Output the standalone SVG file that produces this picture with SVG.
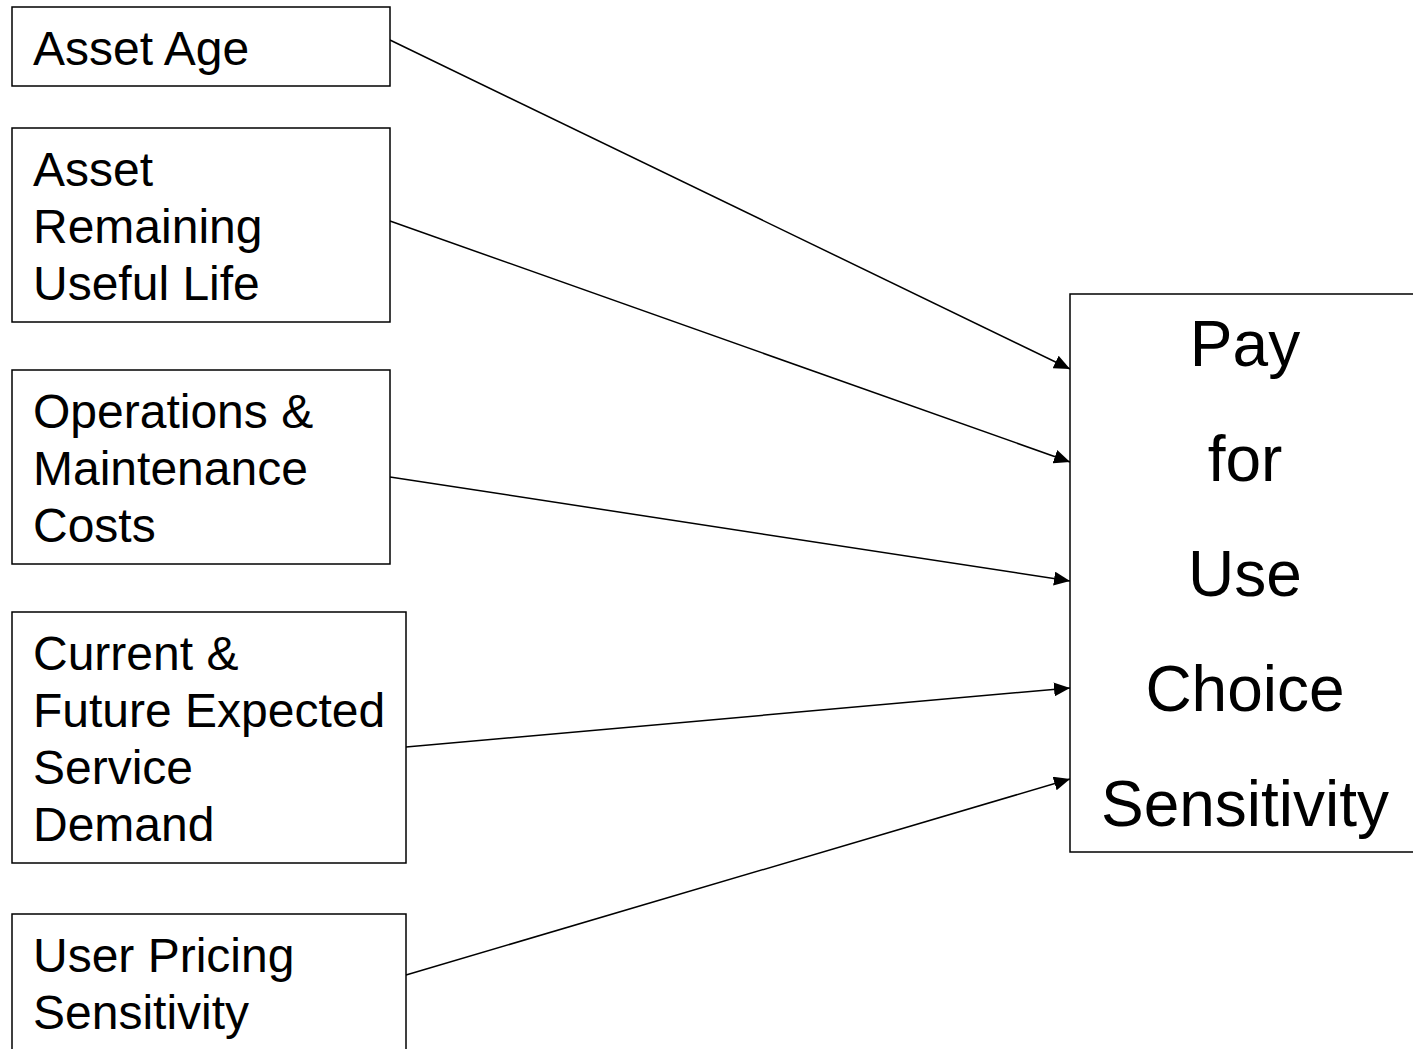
<svg xmlns="http://www.w3.org/2000/svg" width="1413" height="1049" viewBox="0 0 1413 1049">
<style>
.box{fill:#fff;stroke:#000;stroke-width:1.5}
.t{font-family:"Liberation Sans",Arial,sans-serif;font-size:48px;fill:#000}
.tr{font-family:"Liberation Sans",Arial,sans-serif;font-size:64px;fill:#000;text-anchor:middle}
.c{stroke:#000;stroke-width:1.5;fill:none;marker-end:url(#ah)}
</style>
<defs>
<marker id="ah" markerUnits="userSpaceOnUse" markerWidth="16" markerHeight="14" refX="16" refY="7" orient="auto">
<path d="M0,0 L16,7 L0,14 Z" fill="#000"/>
</marker>
</defs>
<rect width="1413" height="1049" fill="#fff"/>
<g id="connectors">
<line class="c" x1="390" y1="40" x2="1070" y2="369"/>
<line class="c" x1="390" y1="221" x2="1070" y2="462"/>
<line class="c" x1="390" y1="477" x2="1070" y2="581"/>
<line class="c" x1="406" y1="747" x2="1070" y2="688"/>
<line class="c" x1="406" y1="975" x2="1070" y2="779"/>
</g>
<g id="n1"><rect class="box" x="12" y="7" width="378" height="79"/><text class="t" x="33" y="65">Asset Age</text></g>
<g id="n2"><rect class="box" x="12" y="128" width="378" height="194"/><text class="t" x="33" y="186">Asset</text><text class="t" x="33" y="243">Remaining</text><text class="t" x="33" y="300">Useful Life</text></g>
<g id="n3"><rect class="box" x="12" y="370" width="378" height="194"/><text class="t" x="33" y="428">Operations &amp;</text><text class="t" x="33" y="485">Maintenance</text><text class="t" x="33" y="542">Costs</text></g>
<g id="n4"><rect class="box" x="12" y="612" width="394" height="251"/><text class="t" x="33" y="670">Current &amp;</text><text class="t" x="33" y="727">Future Expected</text><text class="t" x="33" y="784">Service</text><text class="t" x="33" y="841">Demand</text></g>
<g id="n5"><rect class="box" x="12" y="914" width="394" height="160"/><text class="t" x="33" y="972">User Pricing</text><text class="t" x="33" y="1029">Sensitivity</text></g>
<g id="n6"><rect class="box" x="1070" y="294" width="360" height="558"/><text class="tr" x="1245" y="366">Pay</text><text class="tr" x="1245" y="481">for</text><text class="tr" x="1245" y="596">Use</text><text class="tr" x="1245" y="711">Choice</text><text class="tr" x="1245" y="826">Sensitivity</text></g>
</svg>
